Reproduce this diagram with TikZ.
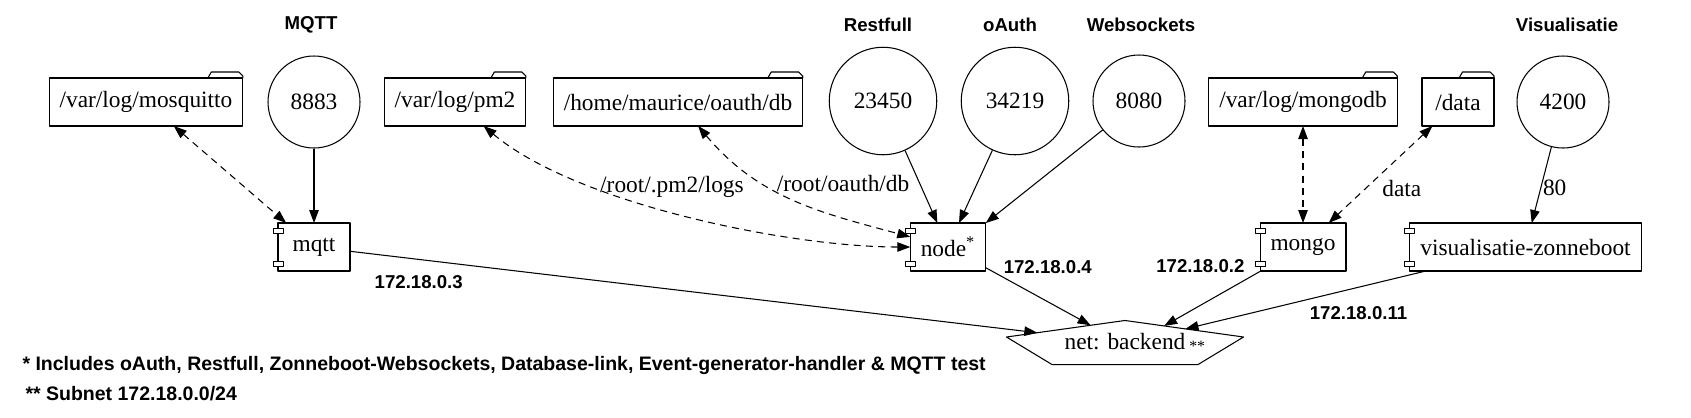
\documentclass[tikz,border=0pt]{standalone}
\usepackage{fontspec}
\setmainfont{Liberation Serif}
\newfontfamily\headfont{Liberation Sans}
\usetikzlibrary{arrows.meta,calc}
\tikzset{
	folder/.style={draw, fill=white, outer sep=0pt, minimum width=14.4mm, minimum height=9.6mm, inner xsep=2.1mm},
	container/.style={draw, fill=white, outer sep=0pt, minimum width=14.4mm, minimum height=9.6mm, inner xsep=2.1mm},
	port/.style={circle, draw, minimum size=18.4mm, inner sep=0pt},
	sanslabel/.style={font=\headfont\bfseries\fontsize{10.6}{12}\selectfont},
	footnote/.style={font=\headfont\bfseries\fontsize{11.1}{13}\selectfont, anchor=base west, inner sep=0pt},
	mount/.style={<->, dash pattern=on 4pt off 3pt}
}
\begin{document}
\begin{tikzpicture}[x=0.2mm, y=0.2mm, font=\fontsize{13.3}{16}\selectfont, line width=0.6pt, line join=round, >={Triangle[length=2.6mm, width=1.9mm]}]
	\useasboundingbox (0,0) rectangle (1691,-417);
	\node[sanslabel, inner sep=0pt] (hmqtt) at (311,-25) {MQTT};
	\node[sanslabel, inner sep=0pt] (hrest) at (878,-25) {Restfull};
	\node[sanslabel, inner sep=0pt] (hoauth) at (1010,-25) {oAuth};
	\node[sanslabel, inner sep=0pt] (hws) at (1141,-25) {Websockets};
	\node[sanslabel, inner sep=0pt] (hvis) at (1567,-25) {Visualisatie};
	\node[folder] (mosquitto) at (146,-102) {/var/log/mosquitto};
	\node[port] (p8883) at (314,-102) {8883};
	\node[folder] (pm2) at (455,-102) {/var/log/pm2};
	\node[folder] (oauthdb) at (678,-102) {/home/maurice/oauth/db};
	\node[port, minimum size=21.5mm] (p23450) at (883,-101) {23450};
	\node[port, minimum size=21.5mm] (p34219) at (1015,-101) {34219};
	\node[port] (p8080) at (1139,-101) {8080};
	\node[folder] (mongodb) at (1303,-102) {/var/log/mongodb};
	\node[folder] (data) at (1458,-102) {/data};
	\node[port] (p4200) at (1563,-102) {4200};
	\node[container] (mqtt) at (314,-247) {mqtt};
	\node[container] (nodejs) at (948,-247) {node\textsuperscript{*}};
	\node[container] (mongo) at (1303,-247) {mongo};
	\node[container] (vis) at (1525.5,-247) {visualisatie-zonneboot};
	\foreach \f in {mosquitto,pm2,oauthdb,mongodb,data}
		\draw ([xshift=-7mm]\f.north east) -- ++(0.7mm,1.2mm) -- ([xshift=-0.8mm,yshift=1.2mm]\f.north east) -- ([yshift=0.4mm]\f.north east) -- (\f.north east);
	\foreach \c in {mqtt,nodejs,mongo,vis}
		\draw[fill=white, line width=0.5pt] ([xshift=-1mm,yshift=-1mm]\c.north west) rectangle ++(2mm,-1mm)
			([xshift=-1mm,yshift=1mm]\c.south west) rectangle ++(2mm,1mm);
	\node[inner sep=0pt, minimum width=47.2mm, minimum height=8.6mm] (net) at (1125,-342.5) {net: backend\rlap{\,\raisebox{-0.4mm}{\fontsize{9}{9}\selectfont **}}};
	\path ([yshift=1.1mm]net.west) coordinate (netW)
		([yshift=1.1mm]net.east) coordinate (netE)
		([xshift=-14.6mm]net.south) coordinate (netSW)
		([xshift=14.6mm]net.south) coordinate (netSE);
	\draw (net.north) -- (netE) -- (netSE) -- (netSW) -- (netW) -- cycle;
	\draw[mount] (mosquitto) -- (mqtt);
	\draw[->] (p8883) -- (mqtt);
	\draw[mount] (pm2) to[out=-40, in=180, looseness=.7] node[pos=.47, above, yshift=1.5mm] {/root/.pm2/logs} (nodejs.west);
	\draw[mount] (oauthdb) to[out=-50, in=165] node[pos=.35, right=1.5mm] {/root/oauth/db} (nodejs.165);
	\draw[->] (p23450) -- (nodejs);
	\draw[->] (p34219) -- (nodejs);
	\draw[->] (p8080) -- (nodejs.north east);
	\draw[mount] (mongodb) -- (mongo);
	\draw[mount] (data) -- (mongo) node[pos=.64, right=2mm] {data};
	\draw[->] (p4200) -- (vis) node[pos=.54, right, inner sep=1pt] {80};
	\draw[->] (mqtt) -- ($(net.north)!.74!(netW)$) node[pos=.1, below=2mm, sanslabel] {172.18.0.3};
	\draw[->] (nodejs) -- ($(net.north)!.29!(netW)$) node[pos=.15, anchor=south west, inner sep=1pt, sanslabel] {172.18.0.4};
	\draw[->] (mongo) -- ($(net.north)!.33!(netE)$) node[pos=0, anchor=east, xshift=-2mm, yshift=1mm, sanslabel] {172.18.0.2};
	\draw[->] (vis) -- ($(net.north)!.51!(netE)$) node[pos=.28, below=2.5mm, sanslabel] {172.18.0.11};
	\node[footnote] (fn1) at (22,-370) {* Includes oAuth, Restfull, Zonneboot-Websockets, Database-link, Event-generator-handler \& MQTT test};
	\node[footnote] (fn2) at (25,-400) {** Subnet 172.18.0.0/24};
\end{tikzpicture}
\end{document}
